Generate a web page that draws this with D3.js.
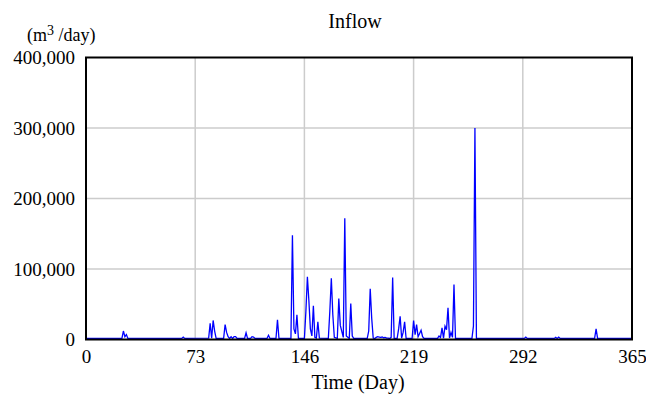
<!DOCTYPE html>
<html>
<head>
<meta charset="utf-8">
<script src="https://cdn.jsdelivr.net/npm/d3@7"></script>
<style>
  body { margin: 0; background: #fff; }
  svg text { font-family: "Liberation Serif", "Times New Roman", serif; fill: #000; }
</style>
</head>
<body>
<svg id="chart" width="646" height="396"></svg>
<script>
// daily inflow (m3/day), flat stretches given by their end points
var days = [
    0, 24, 25, 26, 27, 28, 64, 65, 66,
    82, 83, 84, 85, 86, 87,
    92, 93, 94, 95, 96, 97, 98, 99, 100, 101,
    106, 107, 108, 110, 111, 112, 113, 121, 122, 123,
    127, 128, 129,
    137, 138, 139, 140, 141, 142,
    146, 147, 148, 149, 150, 151, 152, 153, 154, 155, 156,
    162, 163, 164, 165, 166, 168, 169, 170, 172, 173, 174, 176, 177, 178, 179,
    188, 189, 190, 191, 192, 193, 194, 195, 196, 197, 198, 199, 200, 201, 202,
    203, 204, 205, 206,
    208, 209, 210, 211, 212, 213, 214,
    218, 219, 220, 221, 222, 223, 224, 225, 226, 227, 228, 229, 230,
    235, 236, 237, 238, 239, 240, 241, 242, 243, 244, 245, 246, 247, 248, 249,
    258, 259, 260, 261,
    293, 294, 295, 313, 314, 315, 316, 317, 318, 319,
    340, 341, 342, 365
];
var inflow = [
    1500, 1500, 12000, 4000, 7000, 1500, 1500, 3500, 1500,
    2000, 23000, 2000, 27000, 12000, 1500,
    1500, 21000, 10000, 4000, 1500, 4000, 1500, 4000, 4000, 1500,
    1500, 9500, 1500, 1500, 4000, 3500, 1500, 1500, 6000, 1500,
    1500, 28000, 1500,
    1500, 148000, 15000, 8000, 35000, 1500,
    1500, 40000, 89000, 55000, 15000, 5000, 48000, 3000, 2000, 25000, 2000,
    1500, 40000, 87000, 35000, 3000, 1500, 58000, 20000, 3000, 172000, 5000, 1500, 51000, 5000, 1500,
    1500, 12000, 72000, 30000, 2000, 1500, 3000, 4000, 3500, 3000, 3500, 2500, 3000, 2000, 2000,
    1500, 3000, 88000, 1500,
    1500, 15000, 33000, 2000, 10000, 25000, 1500,
    1500, 27000, 7000, 21000, 4000, 8500, 13000, 4000, 1500, 1500, 1500, 1500, 1500,
    1500, 5000, 3000, 16500, 2000, 19000, 14000, 45000, 2000, 10000, 3000, 78000, 1500, 1500, 1500,
    1500, 19000, 300000, 1500,
    1500, 3500, 1500, 1500, 3000, 1500, 3500, 1500, 1500, 1500,
    1500, 15000, 1500, 1500
];
var xTicks = [0, 73, 146, 219, 292, 365];
var yTicks = [0, 100000, 200000, 300000, 400000];

var svg = d3.select('#chart');
var plotLeft = 86, plotRight = 632, plotTop = 57.5, plotBottom = 339.5;

var x = d3.scaleLinear().domain([0, 365]).range([plotLeft, plotRight]);
var y = d3.scaleLinear().domain([0, 400000]).range([plotBottom, plotTop]);
var fmt = d3.format(',');

// grid
svg.append('g')
    .selectAll('line')
    .data(xTicks.slice(1, -1))
    .enter().append('line')
    .attr('x1', function (d) { return x(d); })
    .attr('x2', function (d) { return x(d); })
    .attr('y1', plotTop).attr('y2', plotBottom)
    .style('stroke', '#cccccc').style('stroke-width', 1.5);

svg.append('g')
    .selectAll('line')
    .data(yTicks.slice(1, -1))
    .enter().append('line')
    .attr('y1', function (d) { return y(d); })
    .attr('y2', function (d) { return y(d); })
    .attr('x1', plotLeft).attr('x2', plotRight)
    .style('stroke', '#cccccc').style('stroke-width', 1.5);

// axes (labels only, the frame is drawn separately)
var xAxis = svg.append('g')
    .attr('transform', 'translate(0,' + plotBottom + ')')
    .call(d3.axisBottom(x).tickValues(xTicks).tickSize(0).tickPadding(10));
xAxis.select('.domain').remove();
xAxis.selectAll('text').style('font-size', '19px')
    .attr('font-family', null);

var yAxis = svg.append('g')
    .attr('transform', 'translate(' + plotLeft + ',0)')
    .call(d3.axisLeft(y).tickValues(yTicks).tickFormat(fmt).tickSize(0).tickPadding(11));
yAxis.select('.domain').remove();
yAxis.selectAll('text').style('font-size', '19px')
    .attr('font-family', null);

// series
var line = d3.line()
    .x(function (d, i) { return x(days[i]); })
    .y(function (d) { return y(d); });

svg.append('path')
    .datum(inflow)
    .attr('d', line)
    .style('fill', 'none')
    .style('stroke', '#0000ff')
    .style('stroke-width', 1.3)
    .style('stroke-linejoin', 'miter');

// frame
svg.append('rect')
    .attr('x', plotLeft).attr('y', plotTop)
    .attr('width', plotRight - plotLeft).attr('height', plotBottom - plotTop)
    .style('fill', 'none')
    .style('stroke', '#000')
    .style('stroke-width', 2);

// titles
svg.append('text')
    .attr('x', 355).attr('y', 28)
    .attr('text-anchor', 'middle')
    .style('font-size', '20px')
    .text('Inflow');

var unit = svg.append('text')
    .attr('x', 27).attr('y', 41)
    .style('font-size', '18px');
unit.append('tspan').text('(m');
unit.append('tspan').attr('dy', -6).style('font-size', '14px').text('3');
unit.append('tspan').attr('dy', 6).text(' /day)');

svg.append('text')
    .attr('x', 358).attr('y', 389)
    .attr('text-anchor', 'middle')
    .style('font-size', '20px')
    .text('Time (Day)');
</script>
</body>
</html>
